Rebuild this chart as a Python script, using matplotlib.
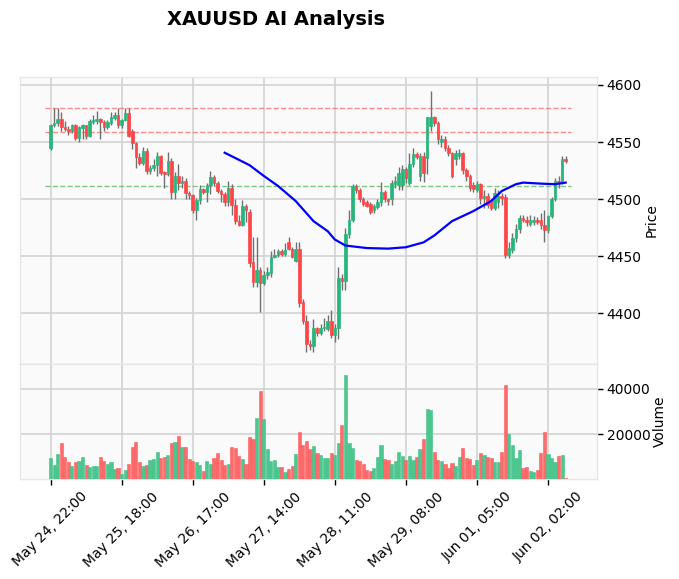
import matplotlib
matplotlib.use("Agg")
import matplotlib.pyplot as plt
import numpy as np

# ---------------- data ----------------
opens = [4545, 4564.5, 4566.5, 4570, 4563, 4561.5, 4559.5, 4565, 4553.5, 4562.5,
         4564.5, 4555.5, 4567.5, 4568, 4570, 4567.5, 4563, 4566.5, 4571, 4573.5,
         4564.5, 4569.5, 4575, 4560, 4549, 4537, 4532, 4542, 4524.5, 4527.5,
         4530, 4538, 4523.5, 4522, 4533.5, 4506.5, 4520, 4514, 4516, 4505.5,
         4503.5, 4490, 4499.5, 4508.5, 4506, 4512.5, 4519.5, 4514, 4507, 4504,
         4497, 4510, 4495, 4481, 4477, 4494, 4489, 4445, 4427, 4438,
         4426, 4433.5, 4435, 4449.5, 4451, 4454, 4452, 4462, 4456, 4446,
         4456, 4410, 4393, 4373, 4371, 4387, 4382.5, 4386.5, 4386, 4393,
         4381, 4386.5, 4431, 4428.5, 4469, 4482, 4511, 4508, 4500, 4497,
         4496, 4490, 4493, 4497, 4506, 4500, 4500, 4513, 4512, 4512,
         4526, 4514, 4531, 4539.5, 4520, 4538, 4536, 4564, 4571.5, 4567,
         4550, 4553, 4545, 4540, 4535, 4538, 4540, 4525.5, 4520, 4512,
         4508, 4513, 4501, 4503, 4498, 4492, 4497, 4503, 4502, 4451,
         4455, 4466, 4474, 4483, 4482, 4478, 4480, 4482, 4482, 4477,
         4473, 4485, 4500, 4516, 4515, 4535]
highs = [4566, 4580, 4580, 4576, 4568, 4564, 4566, 4566, 4564, 4566,
         4565, 4570, 4574, 4577.5, 4571, 4569, 4569, 4576, 4576, 4580,
         4570, 4580, 4580, 4561, 4550, 4540, 4546, 4545, 4530, 4535,
         4541, 4539, 4525, 4541, 4536, 4524, 4531, 4520, 4518, 4507,
         4504, 4501, 4512, 4510, 4514, 4525, 4521, 4516, 4509, 4506,
         4516, 4513, 4500, 4486, 4499, 4496, 4491, 4467, 4467, 4440,
         4437, 4440, 4454, 4456, 4456, 4456, 4461, 4467, 4458, 4462,
         4462, 4412, 4398, 4376, 4395, 4388, 4390, 4396, 4398, 4403,
         4390, 4440, 4434, 4475, 4490, 4513, 4513, 4510, 4502, 4499,
         4497, 4496, 4500, 4515, 4508, 4501, 4517, 4520, 4528, 4530,
         4528, 4540, 4545, 4541, 4540, 4541, 4572, 4595, 4573, 4568,
         4556, 4555, 4547, 4541, 4543, 4544, 4541, 4527, 4522, 4515,
         4516, 4514, 4508, 4505, 4500, 4510, 4508, 4505, 4504, 4462,
         4470, 4478, 4486, 4486, 4485, 4486, 4485, 4484, 4488, 4490,
         4486, 4502, 4518, 4520, 4538, 4538]
lows = [4543, 4563, 4564, 4560, 4560, 4556, 4558, 4552, 4550, 4553,
        4553, 4554, 4566, 4566, 4552.5, 4560, 4561, 4565, 4569, 4562,
        4562, 4568, 4554, 4544, 4527.5, 4530, 4530, 4522, 4522, 4525,
        4520, 4521, 4510, 4520, 4500, 4500, 4508, 4510, 4500, 4500,
        4488, 4482, 4496, 4504, 4497, 4504, 4511, 4505, 4497, 4494,
        4494, 4486, 4478, 4476, 4476, 4480, 4440, 4423, 4423, 4401,
        4425, 4430, 4432, 4448, 4449, 4450, 4450, 4455, 4448, 4445,
        4405, 4390, 4366, 4368, 4366, 4380, 4381, 4384, 4384, 4378,
        4375, 4377, 4420, 4420, 4466, 4480, 4505, 4497, 4494, 4493,
        4487, 4488, 4491, 4494, 4497, 4495, 4495, 4510, 4508, 4508,
        4514, 4512, 4528, 4535, 4516, 4515, 4522, 4560, 4564, 4548,
        4546, 4542, 4538, 4518, 4530, 4535, 4522, 4516, 4507, 4506,
        4506, 4496, 4492, 4492, 4490, 4490, 4492, 4495, 4448, 4448,
        4453, 4462, 4470, 4480, 4476, 4476, 4477, 4478, 4474, 4462,
        4470, 4483, 4498, 4510, 4513, 4532]
closes = [4565, 4567, 4570, 4563, 4561, 4559.5, 4565, 4553.5, 4563, 4564.5,
          4555.5, 4568, 4569, 4570, 4567.5, 4563, 4567.5, 4571.5, 4573.5, 4564.5,
          4569, 4575, 4555.5, 4549, 4536.5, 4532, 4542, 4525, 4527.5, 4530,
          4538, 4523, 4522, 4533.5, 4506.5, 4520, 4514, 4516, 4505.5, 4503.5,
          4490, 4499.5, 4508.5, 4506, 4512.5, 4519.5, 4514, 4507, 4504, 4497,
          4510, 4495, 4481, 4477, 4494, 4490, 4444, 4427, 4438, 4426,
          4433.5, 4436, 4449.5, 4451, 4454, 4452, 4455.5, 4456, 4449.5, 4456,
          4408.5, 4393, 4373, 4371, 4387, 4382.5, 4386.5, 4388, 4393, 4381,
          4386.5, 4431, 4428.5, 4469, 4482, 4511, 4508, 4500, 4496, 4494,
          4489, 4494, 4497, 4506, 4500, 4498, 4514, 4516, 4523, 4526,
          4518, 4531, 4539.5, 4537, 4538, 4522.5, 4571.5, 4571.5, 4567, 4552.5,
          4553, 4545, 4540, 4520, 4540, 4540, 4525.5, 4520, 4510, 4509,
          4513, 4501, 4503, 4495, 4492, 4505, 4503, 4501, 4451, 4457,
          4466, 4474, 4483, 4482, 4480, 4482, 4482, 4480, 4477, 4473,
          4485, 4500, 4516, 4515, 4535, 4533]
volumes = [9300, 6200, 11100, 16000, 9800, 7600, 5800, 7600, 8000, 9800,
           6200, 5300, 5800, 5800, 9800, 8000, 6700, 7600, 4400, 4900,
           2200, 4000, 6700, 14200, 16400, 7600, 5800, 6200, 8400, 8900,
           12000, 9300, 9800, 10700, 16000, 16400, 19100, 14200, 14200, 8900,
           8000, 7600, 6200, 3600, 8000, 6700, 9300, 11600, 8400, 6200,
           6700, 14200, 13800, 10200, 8900, 6700, 18700, 17800, 27100, 39100,
           26700, 13300, 8000, 8400, 5300, 5300, 3100, 4400, 5800, 11100,
           20900, 15100, 16900, 13300, 14700, 11600, 10700, 9300, 9300, 11600,
           10700, 16000, 24000, 46200, 16000, 13800, 8400, 8000, 6700, 4000,
           3600, 4900, 9800, 15100, 8900, 8400, 6700, 8000, 12000, 10200,
           8400, 10200, 8400, 9800, 13300, 17800, 31100, 30700, 12000, 8400,
           8000, 6700, 4900, 7100, 5800, 9800, 13800, 9300, 8900, 6200,
           8400, 11600, 10700, 9800, 9300, 7600, 7600, 12000, 41800, 20000,
           15100, 9300, 12900, 4900, 5300, 3600, 3100, 4000, 11600, 20900,
           11100, 9300, 7600, 10200, 10700, 400]

tick_labels = ["May 24, 22:00", "May 25, 18:00", "May 26, 17:00", "May 27, 14:00",
               "May 28, 11:00", "May 29, 08:00", "Jun 01, 05:00", "Jun 02, 02:00"]
tick_every = 20

ma_index = [49, 56, 60, 64, 69, 74, 78, 80, 83, 89, 95, 100, 105, 108, 113, 119,
            124, 127, 131, 133, 138, 142, 145]
ma_values = [4540.6, 4529.7, 4520.3, 4511.5, 4498.2, 4480.6, 4471.8, 4464.5, 4459.2,
             4457.0, 4456.5, 4457.7, 4462.0, 4468.0, 4480.6, 4489.4, 4498.2, 4507.0,
             4513.0, 4514.4, 4513.5, 4513.0, 4514.4]

resistance_levels = [4580.0, 4558.8]
support_levels = [4511.5]

# ---------------- plot ----------------
UP = "#26b57a"
DOWN = "#fe4547"
VUP = "#4dc790"
VDOWN = "#fd6b6c"
WICK = "#707070"
FACE = "#fafafa"
GRID = "#d0d0d0"

o = np.array(opens, float)
h = np.array(highs, float)
l = np.array(lows, float)
c = np.array(closes, float)
v = np.array(volumes, float)
n = len(o)
x = np.arange(n)
up = c >= o

fig = plt.figure(figsize=(6.79, 5.79), dpi=100)
fig.patch.set_facecolor("white")
ax = fig.add_axes([0.0295, 0.3713, 0.8497, 0.4957])
axv = fig.add_axes([0.0295, 0.1727, 0.8497, 0.1986], sharex=ax)

for a in (ax, axv):
    a.set_facecolor(FACE)
    for s in a.spines.values():
        s.set_color("#e6e6e6")
        s.set_linewidth(1.0)
    a.grid(True, color=GRID, linewidth=1.1, linestyle="-")
    a.set_axisbelow(True)
    a.yaxis.tick_right()
    a.yaxis.set_label_position("right")
    a.tick_params(axis="y", labelsize=10, length=4, width=1, color="black", pad=3)

# wicks and bodies
ax.vlines(x, l, h, colors=WICK, linewidth=1.0, zorder=2)
body_bottom = np.minimum(o, c)
body_height = np.maximum(np.abs(c - o), 0.6)
ax.bar(x, body_height, bottom=body_bottom, width=0.72,
       color=np.where(up, UP, DOWN), edgecolor=np.where(up, UP, DOWN),
       linewidth=0.5, zorder=3)

# horizontal levels
for lvl in resistance_levels:
    ax.hlines(lvl, -1.5, n + 0.5, colors="#ff5a5a", linestyles="--", linewidth=1.0,
              alpha=0.7, zorder=1.5)
for lvl in support_levels:
    ax.hlines(lvl, -1.5, n + 0.5, colors="#4caf50", linestyles="--", linewidth=1.0,
              alpha=0.7, zorder=1.5)

# moving average line
ax.plot(ma_index, ma_values, color="#0000ff", linewidth=1.6, zorder=4)

ax.set_ylim(4355.3, 4607)
ax.set_yticks([4400, 4450, 4500, 4550, 4600])
ax.set_ylabel("Price", fontsize=10, labelpad=2)
plt.setp(ax.get_xticklabels(), visible=False)
ax.tick_params(axis="x", length=0)

# volume
axv.bar(x, v, width=0.9, color=np.where(up, VUP, VDOWN),
        edgecolor=np.where(up, "#3fbf85", "#fd5a5b"), linewidth=0.4, zorder=3)
axv.set_ylim(0, 51100)
axv.set_yticks([20000, 40000])
axv.set_ylabel("Volume", fontsize=10, labelpad=2)

ticks = np.arange(0, n, tick_every)[:len(tick_labels)]
axv.set_xticks(ticks)
axv.set_xticklabels(tick_labels, rotation=45, ha="center", fontsize=10)
axv.tick_params(axis="x", length=4, width=1, color="black")
axv.set_xlim(-8.6, 153.8)

fig.text(0.4065, 0.967, "XAUUSD AI Analysis", ha="center", va="center",
         fontsize=14, fontweight="bold")

fig.savefig("out.png", dpi=100)
